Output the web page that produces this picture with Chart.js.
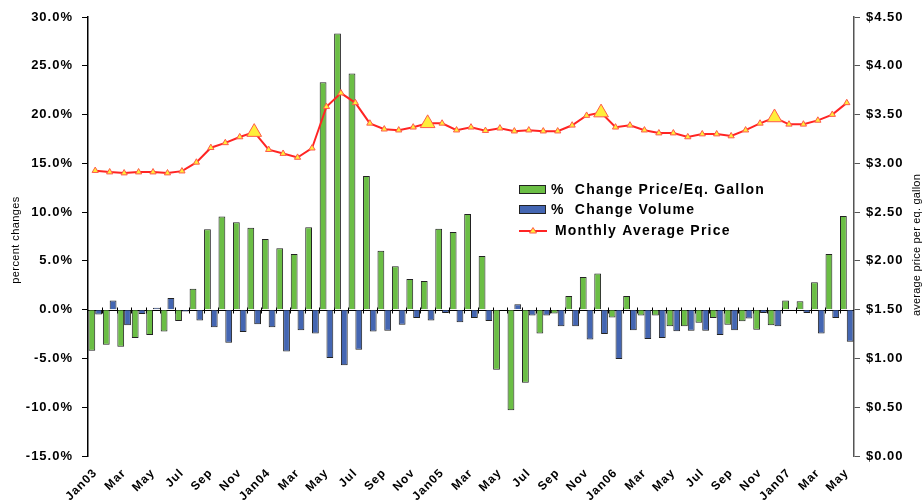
<!DOCTYPE html>
<html>
<head>
<meta charset="utf-8">
<script src="https://cdn.jsdelivr.net/npm/chart.js@4"></script>
<style>
  html, body { margin: 0; padding: 0; background: #fff; }
  #wrap { width: 923px; height: 504px; }
</style>
</head>
<body>
<div id="wrap"><canvas id="chart"></canvas></div>
<script>
// Monthly categories, Jan 2003 - May 2007
const months = [
  "Jan03", "Feb", "Mar", "Apr", "May", "Jun", "Jul", "Aug", "Sep", "Oct", "Nov", "Dec",
  "Jan04", "Feb", "Mar", "Apr", "May", "Jun", "Jul", "Aug", "Sep", "Oct", "Nov", "Dec",
  "Jan05", "Feb", "Mar", "Apr", "May", "Jun", "Jul", "Aug", "Sep", "Oct", "Nov", "Dec",
  "Jan06", "Feb", "Mar", "Apr", "May", "Jun", "Jul", "Aug", "Sep", "Oct", "Nov", "Dec",
  "Jan07", "Feb", "Mar", "Apr", "May"
];

// % change price per eq. gallon
const priceChange = [
  -4.2, -3.6, -3.8, -2.9, -2.6, -2.25, -1.15, 2.15, 8.25, 9.55, 8.95, 8.4,
  7.25, 6.3, 5.7, 8.45, 23.3, 28.3, 24.2, 13.7, 6.05, 4.45, 3.15, 2.95,
  8.3, 7.95, 9.8, 5.5, -6.15, -10.3, -7.5, -2.45, -0.4, 1.4, 3.35, 3.7,
  -0.8, 1.4, -0.6, -0.6, -1.7, -1.7, -1.35, -0.85, -1.55, -1.2, -2.05, -1.6,
  0.95, 0.85, 2.8, 5.7, 9.6
];

// % change volume
const volumeChange = [
  -0.5, 0.95, -1.6, -0.45, 0.2, 1.2, -0.2, -1.1, -1.8, -3.4, -2.3, -1.5,
  -1.8, -4.3, -2.1, -2.45, -4.95, -5.7, -4.1, -2.25, -2.15, -1.55, -0.85, -1.1,
  -0.35, -1.3, -0.85, -1.15, -0.05, 0.55, -0.6, -0.6, -1.7, -1.7, -3.05, -2.5,
  -5.05, -2.1, -3.0, -2.9, -2.2, -2.15, -2.15, -2.6, -2.1, -0.9, -0.35, -1.7,
  0.05, -0.35, -2.45, -0.85, -3.3
];

// monthly average price ($ per eq. gallon)
const avgPrice = [
  2.925, 2.91, 2.90, 2.91, 2.91, 2.90, 2.92, 3.01, 3.16, 3.21, 3.27, 3.32,
  3.14, 3.10, 3.06, 3.155, 3.58, 3.72, 3.62, 3.41, 3.35, 3.34, 3.37, 3.41,
  3.41, 3.34, 3.37, 3.335, 3.36, 3.33, 3.34, 3.33, 3.33, 3.39, 3.49, 3.52,
  3.37, 3.39, 3.34, 3.31, 3.31, 3.27, 3.30, 3.30, 3.28, 3.34, 3.41, 3.47,
  3.40, 3.40, 3.44, 3.50, 3.62
];

// axis ranges
const pctRange = { min: -15, max: 30, step: 5 };
const priceRange = { min: 0, max: 4.5, step: 0.5 };

const FONT = "'Liberation Sans', Arial, sans-serif";

// zero line, category ticks, legend box and axis titles
const decorations = {
  id: "decorations",
  beforeDraw(chart) {
    chart.ctx.letterSpacing = "1px";
  },
  beforeDatasetsDraw(chart) {
    const { ctx, chartArea, scales } = chart;
    const y0 = Math.round(scales.y.getPixelForValue(0)) + 0.5;
    ctx.save();
    ctx.strokeStyle = "#000";
    ctx.lineWidth = 1;
    ctx.beginPath();
    ctx.moveTo(chartArea.left, y0);
    ctx.lineTo(chartArea.right, y0);
    for (let i = 1; i < months.length; i++) {
      const x = Math.round((scales.x.getPixelForValue(i - 1) + scales.x.getPixelForValue(i)) / 2) + 0.5;
      ctx.moveTo(x, y0 - 3);
      ctx.lineTo(x, y0 + 3);
    }
    ctx.stroke();
    ctx.restore();
  },
  afterDraw(chart) {
    const ctx = chart.ctx;
    const sets = chart.data.datasets;

    // legend
    ctx.save();
    ctx.font = `bold 14px ${FONT}`;
    ctx.letterSpacing = "1.2px";
    ctx.fillStyle = "#000";
    ctx.textBaseline = "middle";
    const rows = [190, 210, 231];
    sets.forEach((ds, i) => {
      const y = rows[i];
      if (ds.type === "line") {
        ctx.strokeStyle = ds.borderColor;
        ctx.lineWidth = 2;
        ctx.beginPath();
        ctx.moveTo(519, y);
        ctx.lineTo(547, y);
        ctx.stroke();
        ctx.fillStyle = ds.pointBackgroundColor;
        ctx.strokeStyle = ds.pointBorderColor;
        ctx.lineWidth = 1;
        ctx.beginPath();
        ctx.moveTo(533, y - 3.5);
        ctx.lineTo(536.5, y + 2);
        ctx.lineTo(529.5, y + 2);
        ctx.closePath();
        ctx.fill();
        ctx.stroke();
        ctx.fillStyle = "#000";
        ctx.fillText(ds.label, 555, y);
      } else {
        ctx.fillStyle = ds.backgroundColor;
        ctx.fillRect(519, y - 4, 26, 8);
        ctx.strokeStyle = "#222";
        ctx.lineWidth = 1;
        ctx.strokeRect(519.5, y - 4.5, 26, 8);
        ctx.fillStyle = "#000";
        ctx.fillText(ds.label, 551, y);
      }
    });
    ctx.restore();

    // axis titles
    ctx.save();
    ctx.font = `11px ${FONT}`;
    ctx.letterSpacing = "0.4px";
    ctx.fillStyle = "#000";
    ctx.textAlign = "center";
    ctx.textBaseline = "middle";
    ctx.translate(16, 240);
    ctx.rotate(-Math.PI / 2);
    ctx.fillText("percent changes", 0, 0);
    ctx.restore();

    ctx.save();
    ctx.font = `11px ${FONT}`;
    ctx.letterSpacing = "0.2px";
    ctx.fillStyle = "#000";
    ctx.textAlign = "center";
    ctx.textBaseline = "middle";
    ctx.translate(917, 245);
    ctx.rotate(-Math.PI / 2);
    ctx.fillText("average price per eq. gallon", 0, 0);
    ctx.restore();
  }
};

const tickFont = { family: FONT, size: 13, weight: "bold" };

new Chart(document.getElementById("chart"), {
  data: {
    labels: months,
    datasets: [
      {
        type: "bar",
        label: "%  Change Price/Eq. Gallon",
        data: priceChange,
        yAxisID: "y",
        order: 1,
        backgroundColor: "#6BBE45",
        borderColor: "#222",
        borderWidth: 1,
        barPercentage: 1,
        categoryPercentage: 0.94
      },
      {
        type: "bar",
        label: "%  Change Volume",
        data: volumeChange,
        yAxisID: "y",
        order: 1,
        backgroundColor: "#4466B2",
        borderColor: "#222",
        borderWidth: 1,
        barPercentage: 1,
        categoryPercentage: 0.94
      },
      {
        type: "line",
        label: "Monthly Average Price",
        data: avgPrice,
        yAxisID: "y2",
        order: 0,
        borderColor: "#FF2424",
        borderWidth: 2,
        tension: 0,
        pointStyle: "triangle",
        pointRadius: c => (c.dataIndex % 12 === 11 ? 8.5 : 3.6),
        pointBackgroundColor: "#FFEE3A",
        pointBorderColor: "#FF5A4A",
        pointBorderWidth: 1
      }
    ]
  },
  options: {
    responsive: true,
    maintainAspectRatio: false,
    animation: false,
    layout: { padding: { top: 17, left: 0, right: 0, bottom: 0 } },
    plugins: {
      legend: { display: false },
      tooltip: { enabled: false }
    },
    scales: {
      x: {
        grid: { display: false },
        border: { display: false },
        ticks: {
          autoSkip: false,
          minRotation: 45,
          maxRotation: 45,
          padding: 2,
          color: "#000",
          font: { family: FONT, size: 12, weight: "bold" },
          callback: (v, i) => (i % 2 === 0 ? months[i] : "")
        },
        afterFit: s => { s.height = 48; }
      },
      y: {
        position: "left",
        min: pctRange.min,
        max: pctRange.max,
        ticks: {
          stepSize: pctRange.step,
          color: "#000",
          font: tickFont,
          padding: 9,
          callback: v => v.toFixed(1) + "%"
        },
        grid: { drawOnChartArea: false, color: "#000", tickLength: 6 },
        border: { color: "#000", width: 1.5 },
        afterFit: s => { s.width = 88; }
      },
      y2: {
        position: "right",
        min: priceRange.min,
        max: priceRange.max,
        ticks: {
          stepSize: priceRange.step,
          color: "#000",
          font: tickFont,
          padding: 6,
          callback: v => "$" + v.toFixed(2)
        },
        grid: { drawOnChartArea: false, color: "#555", tickLength: 6 },
        border: { color: "#555", width: 1.5 },
        afterFit: s => { s.width = 69; }
      }
    }
  },
  plugins: [decorations]
});
</script>
</body>
</html>
